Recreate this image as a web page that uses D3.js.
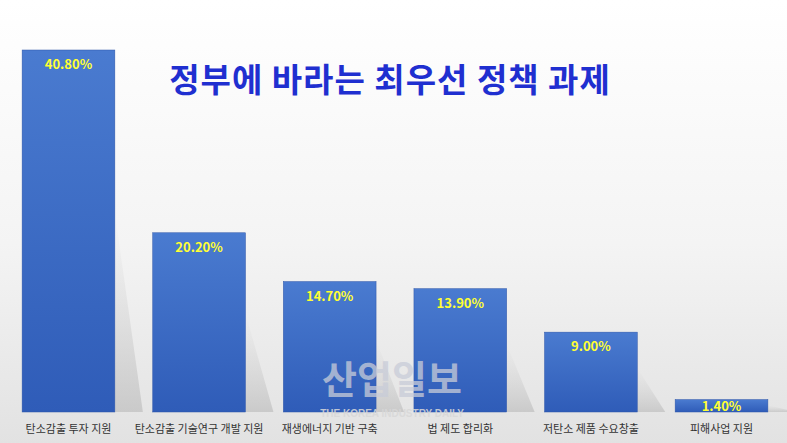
<!DOCTYPE html><html><head><meta charset="utf-8">
<script src="https://cdn.jsdelivr.net/npm/d3@7"></script>
<style>body{margin:0}</style></head><body><svg id="c" width="787" height="443"></svg>
<script>
const categories=["탄소감출 투자 지원","탄소감출 기술연구 개발 지원","재생에너지 기반 구축","법 제도 합리화","저탄소 제품 수요창출","피해사업 지원"];
const values=[40.8,20.2,14.7,13.9,9.0,1.4];
const labels=["40.80%","20.20%","14.70%","13.90%","9.00%","1.40%"];
const svg=d3.select("#c");
const defs=svg.append("defs");
const bg=defs.append("linearGradient").attr("id","bg").attr("x1",0).attr("y1",0).attr("x2",0).attr("y2",1);
bg.append("stop").attr("offset","0").attr("stop-color","#ffffff");
bg.append("stop").attr("offset","0.55").attr("stop-color","#f4f4f4");
bg.append("stop").attr("offset","1").attr("stop-color","#e2e2e2");
const bar=defs.append("linearGradient").attr("id","bar").attr("x1",0).attr("y1",0).attr("x2",0).attr("y2",1);
bar.append("stop").attr("offset","0").attr("stop-color","#4a7bd0");
bar.append("stop").attr("offset","1").attr("stop-color","#2f5cb8");
const sh=defs.append("linearGradient").attr("id","sh").attr("x1",0).attr("y1",0).attr("x2",0).attr("y2",1);
sh.append("stop").attr("offset","0").attr("stop-color","#d0d0d0").attr("stop-opacity",0);
sh.append("stop").attr("offset","1").attr("stop-color","#b8b8b8").attr("stop-opacity",0.6);
svg.append("rect").attr("width",787).attr("height",443).attr("fill","url(#bg)");
const x=d3.scaleBand().domain(categories).range([-4,794]).paddingInner(0.29).paddingOuter(0.2);
const y=d3.scaleLinear().domain([0,40.8]).range([412,50]);
const g=svg.append("g");
g.selectAll("path.sh").data(values).join("path")
 .attr("d",(d,i)=>{const x0=x(categories[i])+x.bandwidth(),yt=y(d);return `M${x0},${yt+(412-yt)*0.45} L${x0+28},412 L${x0},412Z`;})
 .attr("fill","url(#sh)");
g.selectAll("rect.b").data(values).join("rect")
 .attr("x",(d,i)=>x(categories[i])).attr("y",d=>y(d)).attr("width",x.bandwidth()).attr("height",d=>412-y(d))
 .attr("fill","url(#bar)").attr("stroke","#2d55a8").attr("stroke-width",0.5);
g.selectAll("text.v").data(labels).join("text")
 .attr("x",(d,i)=>x(categories[i])+x.bandwidth()/2).attr("y",(d,i)=>Math.min(y(values[i])+19,(y(values[i])+412)/2+5))
 .attr("text-anchor","middle").attr("font-family","Noto Sans CJK KR, sans-serif").attr("font-weight","bold")
 .attr("font-size",13).attr("fill","#ffff33").text(d=>d);
g.selectAll("text.c").data(categories).join("text")
 .attr("x",d=>x(d)+x.bandwidth()/2).attr("y",433).attr("text-anchor","middle")
 .attr("font-family","Noto Sans CJK KR, sans-serif").attr("font-size",11).attr("fill","#333").text(d=>d);
svg.append("text").attr("x",392).attr("y",393).attr("text-anchor","middle").attr("font-family","Noto Sans CJK KR")
 .attr("font-weight","bold").attr("font-size",38).attr("fill","#c8ccd8").attr("opacity",0.75).text("산업일보");
svg.append("text").attr("x",392).attr("y",417).attr("text-anchor","middle").attr("font-family","Liberation Sans")
 .attr("font-weight","bold").attr("font-size",10).attr("fill","#d8d8d8").attr("opacity",0.85).text("THE KOREA INDUSTRY DAILY");
svg.append("text").attr("x",390).attr("y",92).attr("text-anchor","middle").attr("font-family","Noto Sans CJK KR")
 .attr("font-weight","bold").attr("font-size",33).attr("letter-spacing",1).attr("fill","#1f2fd0").text("정부에 바라는 최우선 정책 과제");
</script></body></html>
